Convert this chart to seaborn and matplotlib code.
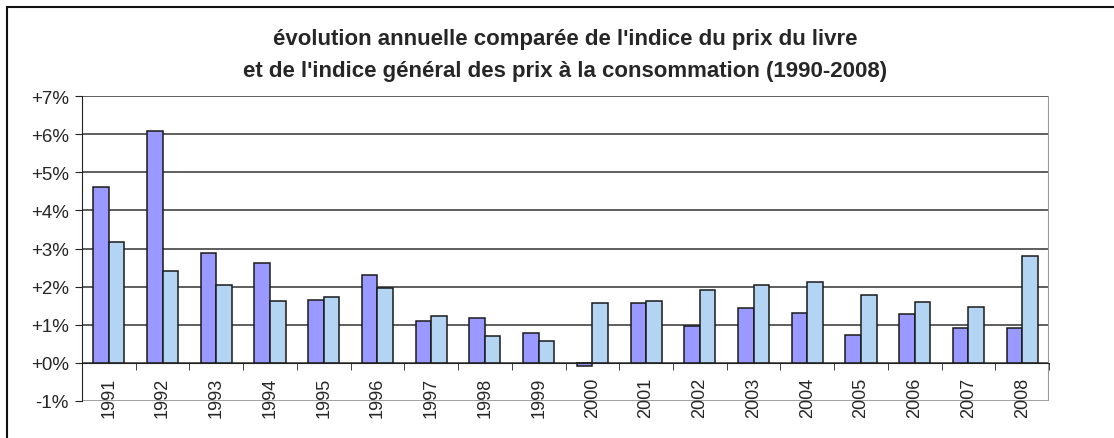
import seaborn as sns
import pandas as pd
import matplotlib.pyplot as plt
from matplotlib.patches import Rectangle
from matplotlib.ticker import FixedLocator, FuncFormatter

years = [str(y) for y in range(1991, 2009)]
livre = [4.62, 6.07, 2.89, 2.61, 1.66, 2.30, 1.10, 1.19, 0.78, -0.09,
         1.56, 0.98, 1.44, 1.31, 0.73, 1.28, 0.91, 0.91]
conso = [3.17, 2.40, 2.05, 1.62, 1.72, 1.97, 1.22, 0.70, 0.57, 1.56,
         1.62, 1.90, 2.05, 2.12, 1.77, 1.59, 1.47, 2.80]

df = pd.concat([
    pd.DataFrame({'annee': years, 'valeur': livre, 'serie': 'livre'}),
    pd.DataFrame({'annee': years, 'valeur': conso, 'serie': 'conso'}),
])

sns.set_style('white')
plt.rcParams['font.family'] = ['Liberation Sans', 'DejaVu Sans']

fig = plt.figure(figsize=(11.14, 4.39), dpi=100)
ax = fig.add_axes([82 / 1114, 1 - 402 / 439, (1049 - 82) / 1114, (402 - 97) / 439])

sns.barplot(data=df, x='annee', y='valeur', hue='serie',
            palette=['#9999FF', '#B3D5F3'], saturation=1, width=0.58, gap=0,
            edgecolor='#1a1a1a', linewidth=1.1, legend=False, ax=ax)

ax.set_ylim(-1, 7)
ax.set_xlim(-0.5, len(years) - 0.5)
ax.set_yticks(range(-1, 8))
ax.yaxis.set_major_formatter(FuncFormatter(lambda v, p: f'{v:+.0f}%'.replace('+-', '-')))
for v in range(0, 8):
    ax.axhline(v, color='#333333', lw=1.1, zorder=0)
ax.axhline(-1, color='#999999', lw=1.3, zorder=0)

for s in ['top', 'right']:
    ax.spines[s].set_visible(False)
ax.axvline(len(years) - 0.5, color='#999999', lw=1.5, zorder=0)
ax.spines['left'].set_color('#222222')
ax.spines['bottom'].set_position(('data', 0))
ax.spines['bottom'].set_color('#222222')

ax.tick_params(axis='y', direction='out', length=5, color='#222222',
               labelsize=13.5, pad=4.5, left=True)
ax.xaxis.set_minor_locator(FixedLocator([i - 0.5 for i in range(len(years) + 1)]))
ax.tick_params(axis='x', which='minor', direction='out', length=5,
               color='#222222', bottom=True)
ax.tick_params(axis='x', which='major', length=0, labelsize=13,
               labelrotation=90, pad=10)
ax.set_xlabel('')
ax.set_ylabel('')

fig.text(565 / 1114, 1 - 40 / 439,
         "évolution annuelle comparée de l'indice du prix du livre",
         ha='center', va='center', fontsize=16, fontweight='bold')
fig.text(565 / 1114, 1 - 72 / 439,
         "et de l'indice général des prix à la consommation (1990-2008)",
         ha='center', va='center', fontsize=16, fontweight='bold')

fig.patches.append(Rectangle((7 / 1114, -0.2), 1.2, 1 - 8 / 439 + 0.2,
                             transform=fig.transFigure, fill=False,
                             edgecolor='#111111', lw=1.5))

fig.savefig('out.png', dpi=100)
